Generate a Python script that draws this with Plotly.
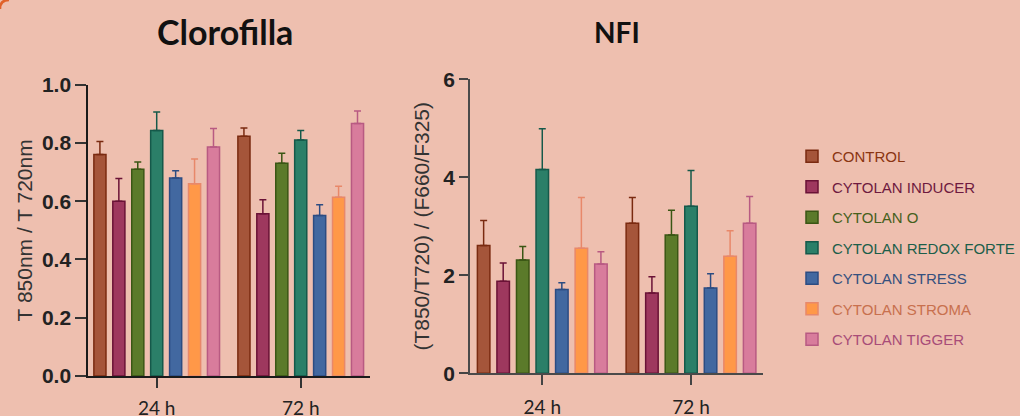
import plotly.graph_objects as go

# Sampling times and treatments
times = ["24 h", "72 h"]
treatments = [
    "CONTROL",
    "CYTOLAN INDUCER",
    "CYTOLAN O",
    "CYTOLAN REDOX FORTE",
    "CYTOLAN STRESS",
    "CYTOLAN STROMA",
    "CYTOLAN TIGGER",
]

# Clorofilla: T850/T720 means and upper error (24 h, 72 h)
clor_mean = {
    "CONTROL": [0.76, 0.823],
    "CYTOLAN INDUCER": [0.60, 0.557],
    "CYTOLAN O": [0.71, 0.73],
    "CYTOLAN REDOX FORTE": [0.843, 0.81],
    "CYTOLAN STRESS": [0.68, 0.551],
    "CYTOLAN STROMA": [0.66, 0.614],
    "CYTOLAN TIGGER": [0.786, 0.867],
}
clor_err = {
    "CONTROL": [0.045, 0.028],
    "CYTOLAN INDUCER": [0.078, 0.048],
    "CYTOLAN O": [0.025, 0.035],
    "CYTOLAN REDOX FORTE": [0.063, 0.033],
    "CYTOLAN STRESS": [0.025, 0.037],
    "CYTOLAN STROMA": [0.085, 0.037],
    "CYTOLAN TIGGER": [0.064, 0.043],
}

# NFI: (T850/T720)/(F660/F325) means and upper error (24 h, 72 h)
nfi_mean = {
    "CONTROL": [2.61, 3.06],
    "CYTOLAN INDUCER": [1.88, 1.64],
    "CYTOLAN O": [2.31, 2.82],
    "CYTOLAN REDOX FORTE": [4.16, 3.41],
    "CYTOLAN STRESS": [1.71, 1.74],
    "CYTOLAN STROMA": [2.55, 2.39],
    "CYTOLAN TIGGER": [2.23, 3.06],
}
nfi_err = {
    "CONTROL": [0.51, 0.53],
    "CYTOLAN INDUCER": [0.37, 0.33],
    "CYTOLAN O": [0.28, 0.51],
    "CYTOLAN REDOX FORTE": [0.83, 0.73],
    "CYTOLAN STRESS": [0.14, 0.29],
    "CYTOLAN STROMA": [1.04, 0.52],
    "CYTOLAN TIGGER": [0.25, 0.55],
}

clor_ticks = [0.0, 0.2, 0.4, 0.6, 0.8, 1.0]
nfi_ticks = [0, 2, 4, 6]

# fill, outline / error colour, legend text colour
fill = {
    "CONTROL": "#A5553A",
    "CYTOLAN INDUCER": "#9E385E",
    "CYTOLAN O": "#5B7A2A",
    "CYTOLAN REDOX FORTE": "#2B7F68",
    "CYTOLAN STRESS": "#4268A0",
    "CYTOLAN STROMA": "#FF9848",
    "CYTOLAN TIGGER": "#D87C9C",
}
edge = {
    "CONTROL": "#7A2A10",
    "CYTOLAN INDUCER": "#6A1236",
    "CYTOLAN O": "#3A5614",
    "CYTOLAN REDOX FORTE": "#15594A",
    "CYTOLAN STRESS": "#2C4C82",
    "CYTOLAN STROMA": "#E8886A",
    "CYTOLAN TIGGER": "#B85A82",
}
label_col = {
    "CONTROL": "#8A3512",
    "CYTOLAN INDUCER": "#6E1A40",
    "CYTOLAN O": "#46601C",
    "CYTOLAN REDOX FORTE": "#1B5E4A",
    "CYTOLAN STRESS": "#34507E",
    "CYTOLAN STROMA": "#C8704E",
    "CYTOLAN TIGGER": "#A84C78",
}

BG = "#EEBFAF"
W, H = 1020, 416

fig = go.Figure()

for t in treatments:
    fig.add_trace(go.Bar(
        x=times, y=clor_mean[t],
        name=f'<span style="color:{label_col[t]}">{t}</span>',
        legendgroup=t,
        marker=dict(color=fill[t], line=dict(color=edge[t], width=1.5)),
        error_y=dict(type="data", symmetric=False, array=clor_err[t],
                     arrayminus=[0, 0], color=edge[t], thickness=1.5, width=3.5),
        xaxis="x", yaxis="y",
    ))
for t in treatments:
    fig.add_trace(go.Bar(
        x=times, y=nfi_mean[t],
        name=t, legendgroup=t, showlegend=False,
        marker=dict(color=fill[t], line=dict(color=edge[t], width=1.5)),
        error_y=dict(type="data", symmetric=False, array=nfi_err[t],
                     arrayminus=[0, 0], color=edge[t], thickness=1.5, width=3.5),
        xaxis="x2", yaxis="y2",
    ))

tick_font = dict(family="Liberation Sans", size=21, color="#222222", weight="bold")
xtick_font = dict(family="Lato", size=19, color="#222222")

fig.update_layout(
    width=W, height=H,
    margin=dict(l=0, r=0, t=0, b=0, autoexpand=False),
    paper_bgcolor=BG, plot_bgcolor=BG,
    barmode="group", bargap=0.08, bargroupgap=0.36,
    font=dict(family="Liberation Sans"),
    showlegend=True,
    legend=dict(
        x=792 / W, y=1 - 140 / H, xanchor="left", yanchor="top",
        font=dict(family="Liberation Sans", size=15),
        bgcolor="rgba(0,0,0,0)", tracegroupgap=8,
        itemclick=False,
    ),
    xaxis=dict(
        domain=[88.3 / W, 370 / W], anchor="y", automargin=False,
        type="category", range=[-0.475, 1.481],
        showline=True, linecolor="#1A1A1A", linewidth=2,
        ticks="outside", ticklen=10, tickwidth=1.5, tickcolor="#333333",
        tickfont=xtick_font, ticklabelstandoff=4,
        showgrid=False, zeroline=False,
    ),
    yaxis=dict(
        domain=[(H - 376) / H, (H - 84.7) / H], anchor="x", automargin=False,
        range=[0, 1.0], tickvals=clor_ticks, ticktext=[f"{v:.1f}" for v in clor_ticks],
        showline=True, linecolor="#1A1A1A", linewidth=2,
        ticks="outside", ticklen=11, tickwidth=1.5, tickcolor="#333333",
        tickfont=tick_font, showgrid=False, zeroline=False,
        title=dict(text="T 850nm / T 720nm",
                   font=dict(family="Liberation Sans", size=21, color="#333333"),
                   standoff=4),
    ),
    xaxis2=dict(
        domain=[470 / W, 762.7 / W], anchor="y2", automargin=False,
        type="category", range=[-0.486, 1.482],
        showline=True, linecolor="#4A4A4A", linewidth=1.5,
        ticks="outside", ticklen=10, tickwidth=1.5, tickcolor="#444444",
        tickfont=xtick_font, ticklabelstandoff=6,
        showgrid=False, zeroline=False,
    ),
    yaxis2=dict(
        domain=[(H - 373.3) / H, (H - 79.3) / H], anchor="x2", automargin=False,
        range=[0, 6], tickvals=nfi_ticks,
        showline=True, linecolor="#4A4A4A", linewidth=1.5,
        ticks="outside", ticklen=9, tickwidth=1.5, tickcolor="#444444",
        tickfont=tick_font, showgrid=False, zeroline=False,
        title=dict(text="(T850/T720) / (F660/F325)",
                   font=dict(family="Liberation Sans", size=21, color="#333333"),
                   standoff=8),
    ),
    annotations=[
        dict(text="<b>Clorofilla</b>", x=225 / W, y=1 - 32 / H,
             xref="paper", yref="paper", xanchor="center", yanchor="middle",
             showarrow=False, font=dict(family="Lato", size=34, color="#111111")),
        dict(text="<b>NFI</b>", x=617 / W, y=1 - 32 / H,
             xref="paper", yref="paper", xanchor="center", yanchor="middle",
             showarrow=False, font=dict(family="Lato", size=28, color="#111111")),
    ],
    shapes=[
        # rounded frame corner at the top left
        dict(type="path", xref="paper", yref="paper",
             path=f"M 0,{1 - 9 / H} Q 0,1 {9 / W},1",
             line=dict(color="#E0622A", width=2.5)),
    ],
)

fig.write_html("out.html")
